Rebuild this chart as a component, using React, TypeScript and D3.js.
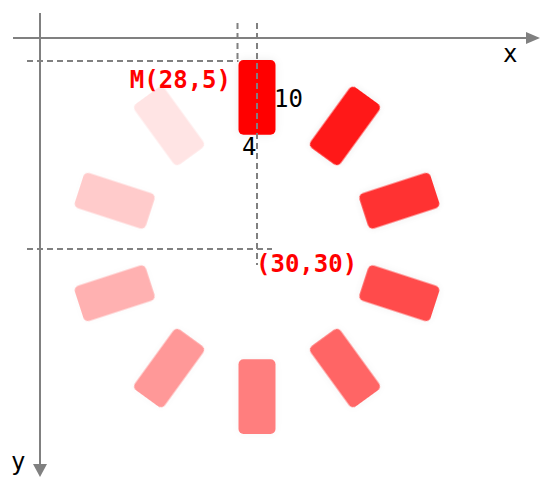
import React from 'react';
import * as d3 from 'd3';

const W = 540;
const H = 477;

// Spinner spokes: rotation angle (deg, clockwise) and opacity
const spokeAngles = [0, 36, 72, 108, 144, 180, 216, 252, 288, 324];
const spokeOpacity = [1, 0.9, 0.8, 0.7, 0.6, 0.5, 0.4, 0.3, 0.2, 0.1];

// Geometry in diagram units
const rectOrigin = [28, 5];
const rectSize = [4, 10];
const ringCenter = [30, 30];

// Labels
const originLabel = 'M(28,5)';
const centerLabel = '(30,30)';
const widthLabel = '4';
const heightLabel = '10';
const axisLabels = ['x', 'y'];

export default function App() {
  const xScale = d3.scaleLinear().domain([28, 30]).range([238.5, 257]);
  const yScale = d3.scaleLinear().domain([5, 30]).range([60, 247]);

  const rx0 = xScale(rectOrigin[0]);
  const ry0 = yScale(rectOrigin[1]);
  const rw = xScale(rectOrigin[0] + rectSize[0]) - rx0;
  const rh = yScale(rectOrigin[1] + rectSize[1]) - ry0;
  const cx = xScale(ringCenter[0]);
  const cy = yScale(ringCenter[1]);

  const gray = '#808080';
  const mono = '"DejaVu Sans Mono", monospace';

  return (
    <svg width={W} height={H} style={{ position: 'absolute', left: 0, top: 0 }}>
      <defs>
        <filter id="sh" x="-30%" y="-30%" width="160%" height="160%">
          <feDropShadow dx="0" dy="0" stdDeviation="4" floodColor="#000" floodOpacity="0.08" />
        </filter>
      </defs>
      <rect width={W} height={H} fill="#fff" />

      {/* spokes */}
      {spokeAngles.map((a, i) => (
        <rect
          key={i}
          x={rx0}
          y={ry0}
          width={rw}
          height={rh}
          rx={5}
          ry={5}
          fill="#ff0000"
          opacity={spokeOpacity[i]}
          filter="url(#sh)"
          transform={`rotate(${a} ${cx} ${cy})`}
        />
      ))}

      {/* axes */}
      <line x1={13} y1={38} x2={530} y2={38} stroke={gray} strokeWidth={2} />
      <polygon points="526,32 540,38 526,44" fill={gray} />
      <line x1={40} y1={13} x2={40} y2={467} stroke={gray} strokeWidth={2} />
      <polygon points="33,464 40,477 47,464" fill={gray} />

      {/* dashed guides */}
      <g stroke={gray} strokeWidth={2} strokeDasharray="6,4" fill="none">
        <line x1={27} y1={ry0 + 1} x2={rx0} y2={ry0 + 1} />
        <line x1={rx0 - 1} y1={23} x2={rx0 - 1} y2={ry0 + 1} />
        <line x1={cx} y1={23} x2={cx} y2={cy + 18} />
        <line x1={27} y1={cy + 2} x2={cx + 15} y2={cy + 2} />
      </g>

      {/* labels */}
      <text x={231} y={88} fill="#ff0000" fontFamily={mono} fontWeight="bold" fontSize={24} textAnchor="end">
        {originLabel}
      </text>
      <text x={256} y={272} fill="#ff0000" fontFamily={mono} fontWeight="bold" fontSize={24}>
        {centerLabel}
      </text>
      <text x={274} y={107} fill="#000" fontFamily={mono} fontSize={24}>
        {heightLabel}
      </text>
      <text x={242} y={155} fill="#000" fontFamily={mono} fontSize={24}>
        {widthLabel}
      </text>
      <text x={503} y={62} fill="#000" fontFamily={mono} fontSize={24}>
        {axisLabels[0]}
      </text>
      <text x={11} y={470} fill="#000" fontFamily={mono} fontSize={24}>
        {axisLabels[1]}
      </text>
    </svg>
  );
}
